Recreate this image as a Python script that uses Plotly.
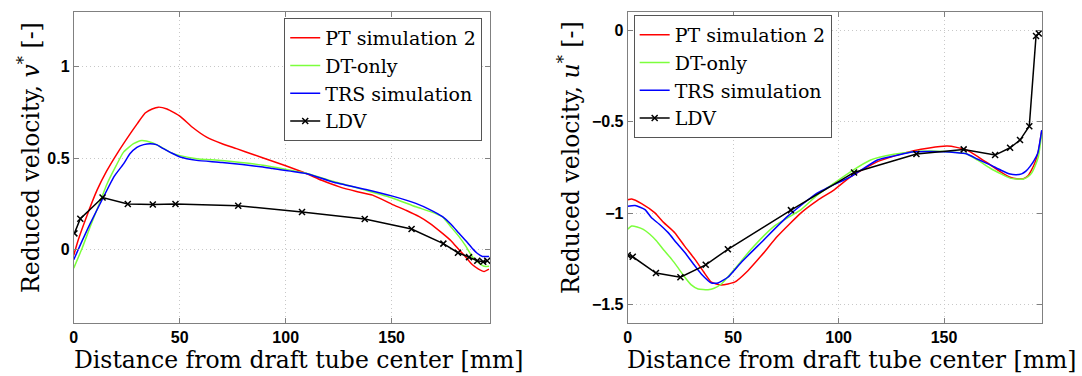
import plotly.graph_objects as go

# ---------------- Left panel: v* ----------------
L_pt_x = [0, 2, 6, 11, 15.5, 20.4, 26.6, 30, 33.7, 37, 40, 44, 50.2, 56, 62.7, 70, 76.8, 85, 92.5, 100, 109.7, 117, 125.4, 133, 141, 150, 157, 163, 168, 174, 178, 181.8, 185, 188, 191, 193.6, 195.9]
L_pt_y = [-0.03, 0.05, 0.18, 0.326, 0.43, 0.525, 0.634, 0.69, 0.748, 0.77, 0.78, 0.77, 0.73, 0.67, 0.616, 0.58, 0.553, 0.52, 0.49, 0.46, 0.417, 0.38, 0.344, 0.32, 0.299, 0.25, 0.215, 0.181, 0.145, 0.09, 0.05, 0.0, -0.04, -0.08, -0.105, -0.118, -0.105]

L_dt_x = [0, 4, 7.8, 12, 15.7, 20, 23.5, 28.2, 32.1, 37, 42.3, 46, 50.2, 58, 70, 89.3, 110, 122.2, 137.9, 150, 161.4, 168, 174, 178, 181.8, 185, 188, 191, 193.6, 196]
L_dt_y = [-0.1, 0.01, 0.127, 0.25, 0.36, 0.46, 0.534, 0.58, 0.598, 0.585, 0.555, 0.53, 0.515, 0.498, 0.488, 0.462, 0.417, 0.375, 0.325, 0.285, 0.235, 0.21, 0.18, 0.125, 0.072, 0.02, -0.036, -0.07, -0.09, -0.09]

L_trs_x = [0, 4, 7.8, 14.1, 19, 23.5, 26.5, 29.8, 33, 36, 39, 42.3, 46, 50.2, 58, 70, 89.3, 94, 109.7, 122.2, 137.9, 150, 161.4, 168, 174, 178, 181.8, 185, 188, 190.5, 192.8, 196]
L_trs_y = [-0.054, 0.05, 0.145, 0.29, 0.4, 0.47, 0.525, 0.56, 0.575, 0.58, 0.575, 0.553, 0.53, 0.507, 0.489, 0.478, 0.453, 0.444, 0.417, 0.371, 0.33, 0.295, 0.254, 0.22, 0.181, 0.14, 0.09, 0.05, 0.009, -0.02, -0.036, -0.036]

L_ldv_x = [0.3, 3.1, 13.6, 25.5, 37.3, 48, 77.6, 107.7, 137.3, 159.4, 174.4, 181.3, 186.5, 190.4, 193.2, 195.1]
L_ldv_y = [0.09, 0.17, 0.286, 0.25, 0.248, 0.25, 0.241, 0.207, 0.168, 0.114, 0.034, -0.016, -0.04, -0.06, -0.065, -0.06]

# ---------------- Right panel: u* ----------------
R_pt_x = [0, 1.9, 6.6, 12.9, 17, 22.3, 27, 31.8, 36, 39.7, 44.4, 50.7, 57, 63.3, 71.1, 82.2, 90, 97.9, 105.8, 118.4, 127, 135.6, 143, 151.4, 156, 160.8, 166, 171.9, 177, 181.3, 184.5, 187.6, 189.8, 191.5, 193.2, 194.7, 196.3]
R_pt_y = [-0.926, -0.922, -0.947, -0.998, -1.05, -1.106, -1.18, -1.251, -1.32, -1.377, -1.392, -1.377, -1.314, -1.233, -1.125, -0.998, -0.93, -0.872, -0.8, -0.718, -0.685, -0.658, -0.643, -0.633, -0.64, -0.655, -0.69, -0.736, -0.775, -0.803, -0.812, -0.812, -0.795, -0.763, -0.72, -0.664, -0.55]

R_dt_x = [0, 1.9, 4.5, 7.4, 10.5, 13.7, 17, 20.8, 24, 27.1, 30, 33.4, 38.1, 41, 44.4, 50.7, 58.5, 69.5, 82.2, 90, 97.9, 105.8, 115.2, 126.2, 135.6, 143, 150, 156, 160.8, 166, 171.9, 177, 181.3, 184.5, 187.6, 189.8, 191.5, 193.2, 194.7, 196.3]
R_dt_y = [-1.088, -1.07, -1.075, -1.088, -1.115, -1.152, -1.2, -1.251, -1.3, -1.35, -1.39, -1.414, -1.418, -1.41, -1.387, -1.305, -1.197, -1.07, -0.98, -0.9, -0.835, -0.772, -0.709, -0.678, -0.664, -0.66, -0.662, -0.668, -0.676, -0.71, -0.754, -0.785, -0.808, -0.813, -0.813, -0.8, -0.781, -0.74, -0.691, -0.564]

R_trs_x = [0, 3.5, 8.2, 11.3, 15, 19.2, 23, 27.1, 31, 34.9, 39.7, 42.8, 47.5, 53.8, 63.3, 75.9, 90, 105.8, 118.4, 127, 135.6, 143, 149.8, 155, 160.8, 166, 171.9, 177, 181.3, 184, 186.8, 188.8, 190.7, 192.5, 194.4, 196.3]
R_trs_y = [-0.962, -0.958, -0.98, -1.025, -1.06, -1.106, -1.16, -1.215, -1.275, -1.332, -1.381, -1.381, -1.35, -1.269, -1.16, -1.016, -0.889, -0.8, -0.709, -0.685, -0.664, -0.662, -0.664, -0.668, -0.676, -0.705, -0.736, -0.765, -0.786, -0.79, -0.785, -0.77, -0.745, -0.715, -0.672, -0.546]

R_ldv_x = [0, 2.4, 13.4, 25, 37, 47.5, 77.4, 107.3, 136.9, 159.3, 174.2, 181.3, 186, 190.4, 193.6, 194.9]
R_ldv_y = [-1.23, -1.238, -1.327, -1.35, -1.282, -1.197, -0.983, -0.777, -0.676, -0.651, -0.682, -0.642, -0.6, -0.524, -0.031, -0.018]

x_ticks = [0, 50, 100, 150]
left_y_ticks = [0, 0.5, 1]
left_y_labels = ["0", "0.5", "1"]
right_y_ticks = [-1.5, -1, -0.5, 0]
right_y_labels = ["\u22121.5", "\u22121", "\u22120.5", "0"]

names = ["PT simulation 2", "DT-only", "TRS simulation", "LDV"]
colors = ["#ff0000", "#7cff3c", "#0000ff", "#000000"]

serif = "DejaVu Serif"
sans = "Liberation Sans"

fig = go.Figure()

left_sets = [(L_pt_x, L_pt_y), (L_dt_x, L_dt_y), (L_trs_x, L_trs_y), (L_ldv_x, L_ldv_y)]
right_sets = [(R_pt_x, R_pt_y), (R_dt_x, R_dt_y), (R_trs_x, R_trs_y), (R_ldv_x, R_ldv_y)]


def add_panel(sets, xa, ya, leg):
    for i, (xs, ys) in enumerate(sets):
        ldv = names[i] == "LDV"
        fig.add_trace(go.Scatter(
            x=xs, y=ys, name=names[i], xaxis=xa, yaxis=ya, legend=leg,
            mode="lines+markers" if ldv else "lines",
            line=dict(color=colors[i], width=1.5, shape="linear" if ldv else "spline", smoothing=0.5),
            marker=dict(symbol="x-thin", size=6, line=dict(width=1.5, color="#000000")) if ldv else None,
        ))


add_panel(left_sets, "x", "y", "legend")
add_panel(right_sets, "x2", "y2", "legend2")

W, H = 1082, 376
ytop, ybot = 1 - 12 / H, 1 - 323 / H

axis_common = dict(
    showline=True, linecolor="#808080", linewidth=1, mirror="ticks",
    ticks="inside", ticklen=5, tickcolor="#808080",
    showgrid=True, gridcolor="#c8c8c8", griddash="1px,3px", gridwidth=1,
    zeroline=False,
    tickfont=dict(family=sans, size=16, color="#000000", weight="bold"),
)

fig.update_layout(
    width=W, height=H,
    margin=dict(l=0, r=0, t=0, b=0),
    paper_bgcolor="white", plot_bgcolor="white",
    xaxis=dict(domain=[70 / W, 488 / W], range=[0, 196.5], tickvals=x_ticks,
               ticktext=[str(v) for v in x_ticks], anchor="y", **axis_common),
    yaxis=dict(domain=[ybot, ytop], range=[-0.4, 1.3], tickvals=left_y_ticks,
               ticktext=left_y_labels, anchor="x", **axis_common),
    xaxis2=dict(domain=[626 / W, 1042 / W], range=[0, 196.5], tickvals=x_ticks,
                ticktext=[str(v) for v in x_ticks], anchor="y2", **axis_common),
    yaxis2=dict(domain=[ybot, ytop], range=[-1.6, 0.1], tickvals=right_y_ticks,
                ticktext=right_y_labels, anchor="x2", **axis_common),
    legend=dict(x=480 / W, y=1 - 18 / H, xanchor="right", yanchor="top",
                bgcolor="white", bordercolor="#555555", borderwidth=1,
                font=dict(family=serif, size=19, color="#000000"), tracegroupgap=0),
    legend2=dict(x=632 / W, y=1 - 15 / H, xanchor="left", yanchor="top",
                 bgcolor="white", bordercolor="#555555", borderwidth=1,
                 font=dict(family=serif, size=19, color="#000000"), tracegroupgap=0),
    showlegend=True,
)

title_font = dict(family=serif, size=23.5, color="#000000")
fig.add_annotation(text="Distance from draft tube center [mm]", xref="paper", yref="paper",
                   x=296 / W, y=1 - 360 / H, showarrow=False, font=title_font, xanchor="center", yanchor="middle")
fig.add_annotation(text="Distance from draft tube center [mm]", xref="paper", yref="paper",
                   x=851 / W, y=1 - 360 / H, showarrow=False, font=title_font, xanchor="center", yanchor="middle")
fig.add_annotation(text="Reduced velocity, <i>v</i><sup>*</sup> [-]", xref="paper", yref="paper",
                   x=25 / W, y=1 - 157 / H, showarrow=False, font=title_font, textangle=-90,
                   xanchor="center", yanchor="middle")
fig.add_annotation(text="Reduced velocity, <i>u</i><sup>*</sup> [-]", xref="paper", yref="paper",
                   x=567 / W, y=1 - 157 / H, showarrow=False, font=title_font, textangle=-90,
                   xanchor="center", yanchor="middle")

fig.write_html("out.html")
